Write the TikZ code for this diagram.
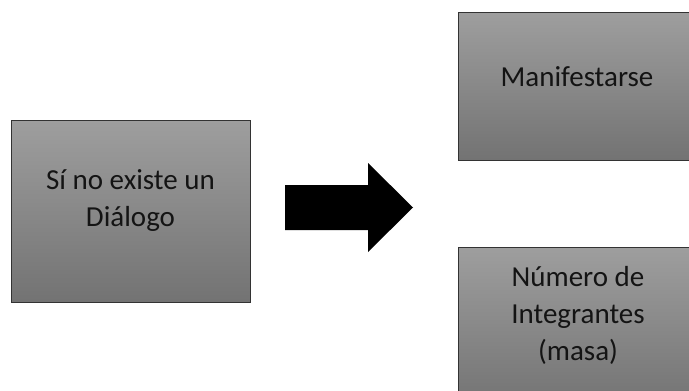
\documentclass[tikz,border=0pt]{standalone}
\usepackage{fontspec}
\setmainfont{Carlito}
\begin{document}
\begin{tikzpicture}[x=1pt,y=-1pt,
  box/.style={draw=black!80, line width=0.9pt, top color=black!38, bottom color=black!55, inner sep=0pt},
  lbl/.style={font=\fontsize{29}{37}\selectfont, align=center, text=black!92, inner sep=0pt}]
\useasboundingbox (0,0) rectangle (689,391);
\begin{scope}
\clip (0,0) rectangle (689,391);
\node[box, minimum width=239pt, minimum height=182pt] (left) at (130.5,211) {};
\node[box, minimum width=240pt, minimum height=148pt] (top) at (578,86) {};
\node[box, minimum width=240pt, minimum height=160pt] (bottom) at (578,327) {};
\end{scope}
\node[lbl] (ltext) at (130.5,201) {Sí no existe un\\Diálogo};
\node[lbl] (ttext) at (577,77) {Manifestarse};
\node[lbl] (btext) at (578,315) {Número de\\Integrantes\\(masa)};
\fill[black] (285,185) -- (368,185) -- (368,163) -- (413,207.5) -- (368,252) -- (368,230) -- (285,230) -- cycle;
\end{tikzpicture}
\end{document}
